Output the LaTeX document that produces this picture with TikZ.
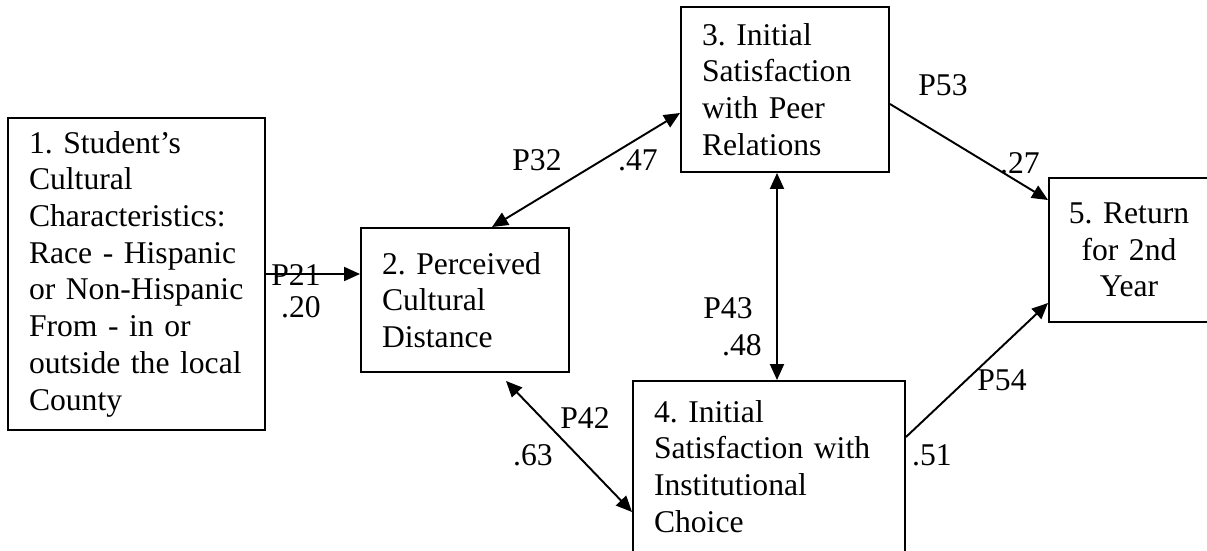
\documentclass[tikz,border=0pt]{standalone}
\usepackage{fontspec}
\setmainfont{Liberation Serif}
\frenchspacing
\usetikzlibrary{arrows.meta}
\tikzstyle{box} = [rectangle,draw,line width=1.1pt,align=left,inner xsep=.42cm,font=\fontsize{18}{20.9}\selectfont]
\tikzstyle{lbl} = [inner sep=0pt,font=\fontsize{18}{20.9}\selectfont]

\begin{document}
\begin{tikzpicture}[>={Triangle[length=.32cm,width=.28cm]}, line width=1.1pt]
		\useasboundingbox (0,0) rectangle (24.14,-11);
		\node [box,text width=4.3cm,minimum height=6.24cm] (b1) at (2.73,-5.48) {1. Student’s\\Cultural\\Characteristics:\\Race - Hispanic\\or Non-Hispanic\\From - in or\\outside the local\\County};
		\node [box,right of=b1,xshift=5.57cm,yshift=-.52cm,text width=3.32cm,minimum height=2.88cm] (b2) {2. Perceived\\Cultural\\Distance};
		\node [box,right of=b2,xshift=5.4cm,yshift=4.21cm,text width=3.32cm,minimum height=3.3cm] (b3) {3. Initial\\Satisfaction\\with Peer\\Relations};
		\node [box,below of=b3,xshift=-.32cm,yshift=-6.54cm,text width=4.6cm,minimum height=3.42cm] (b4) {4. Initial\\Satisfaction with\\Institutional\\Choice};
		\node [box,right of=b3,xshift=5.88cm,yshift=-3.21cm,align=center,inner xsep=.2cm,text width=2.8cm,minimum height=2.88cm] (b5) {5. Return\\for 2nd\\Year};

		\draw[->] (b1.east) -- (b1.east -| b2.west);
		\draw[<->] ([xshift=.54cm]b2.north) -- ([yshift=-.47cm]b3.west);
		\draw[<->] ([xshift=-.16cm]b3.south) -- ([xshift=.16cm]b4.north);
		\draw[<->] ([xshift=.82cm,yshift=-.16cm]b2.south) -- ([yshift=-.91cm]b4.west);
		\draw[->] ([yshift=-.29cm]b3.east) -- ([yshift=1cm]b5.west);
		\draw[->] ([yshift=.59cm]b4.east) -- ([yshift=-1.06cm]b5.west);

		\node [lbl] (p21) at (5.92,-5.50) {P21};
		\node [lbl] (v21) at (6.02,-6.14) {.20};
		\node [lbl] (p32) at (10.74,-3.20) {P32};
		\node [lbl] (v32) at (12.76,-3.20) {.47};
		\node [lbl] (p53) at (18.86,-1.70) {P53};
		\node [lbl] (v53) at (20.40,-3.26) {.27};
		\node [lbl] (p43) at (14.56,-6.16) {P43};
		\node [lbl] (v43) at (14.84,-6.90) {.48};
		\node [lbl] (p42) at (11.70,-8.36) {P42};
		\node [lbl] (v42) at (10.66,-9.10) {.63};
		\node [lbl] (p54) at (20.04,-7.60) {P54};
		\node [lbl] (v54) at (18.64,-9.10) {.51};
		\end{tikzpicture}
\end{document}
